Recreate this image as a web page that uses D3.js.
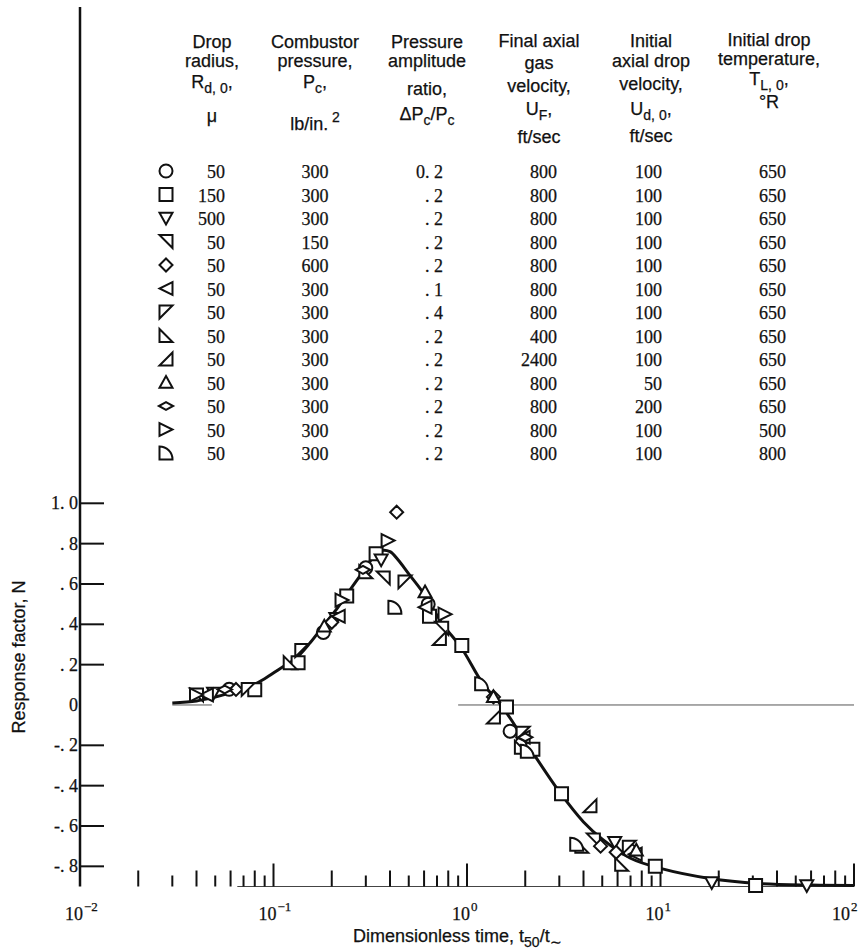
<!DOCTYPE html>
<html>
<head>
<meta charset="utf-8">
<script src="https://cdn.jsdelivr.net/npm/d3@7"></script>
<style>
    body { margin: 0; background: #fff; }
    svg { display: block; }
    text { fill: #111; stroke: #111; stroke-width: 0.25; }
    .sans { font-family: "Liberation Sans", Arial, sans-serif; font-size: 18px; }
    .num { font-family: "Liberation Serif", "Times New Roman", serif; font-size: 18px; }
</style>
</head>
<body>
<svg id="chart" width="861" height="950"></svg>
<script>
"use strict";

// legend table, one entry per symbol
const shapes = ["circle", "square", "triDown", "cornerTR", "diamond", "triLeft",
    "cornerTL", "cornerBL", "cornerBR", "triUp", "wideDiamond", "triRight", "quarter"];
const radius = [50, 150, 500, 50, 50, 50, 50, 50, 50, 50, 50, 50, 50];
const pressure = [300, 300, 300, 150, 600, 300, 300, 300, 300, 300, 300, 300, 300];
const ampRatio = ["0. 2", ". 2", ". 2", ". 2", ". 2", ". 1", ". 4", ". 2", ". 2", ". 2", ". 2", ". 2", ". 2"];
const gasVel = [800, 800, 800, 800, 800, 800, 800, 400, 2400, 800, 800, 800, 800];
const dropVel = [100, 100, 100, 100, 100, 100, 100, 100, 100, 50, 200, 100, 100];
const dropTemp = [650, 650, 650, 650, 650, 650, 650, 650, 650, 650, 650, 500, 800];

// column headers, _{..} subscript, ^{..} superscript
const headers = [
    ["Drop", "radius,", "R_{d, 0},", "\u03bc"],
    ["Combustor", "pressure,", "P_{c},", "lb/in.^{ 2}"],
    ["Pressure", "amplitude", "ratio,", "\u0394P_{c}/P_{c}"],
    ["Final axial", "gas", "velocity,", "U_{F},", "ft/sec"],
    ["Initial", "axial drop", "velocity,", "U_{d, 0},", "ft/sec"],
    ["Initial drop", "temperature,", "T_{L, 0},", "\u00b0R"]
];

// measured points [t50/t~, N] for each symbol
const pCircle = [[0.059, 0.078], [0.181, 0.36], [0.30, 0.68], [0.63, 0.50], [1.67, -0.13], [6.9, -0.72]];
const pSquare = [[0.080, 0.075], [0.134, 0.21], [0.239, 0.54], [0.339, 0.75], [0.64, 0.44], [0.94, 0.295],
    [1.60, -0.01], [2.19, -0.22], [3.08, -0.44], [9.4, -0.80], [31, -0.895]];
const pTriDown = [[0.049, 0.06], [0.21, 0.43], [0.36, 0.72], [5.8, -0.68], [18.4, -0.88], [57, -0.895]];
const pCornerTR = [[0.040, 0.05], [0.369, 0.63], [0.74, 0.38], [4.5, -0.67]];
const pDiamond = [[0.064, 0.077], [0.20, 0.41], [0.433, 0.956], [1.37, 0.04], [4.9, -0.70], [5.9, -0.73]];
const pTriLeft = [[0.045, 0.05], [0.216, 0.44], [0.607, 0.485], [1.95, -0.16], [7.4, -0.74]];
const pCornerTL = [[0.074, 0.077], [0.14, 0.27], [0.478, 0.61], [1.95, -0.14], [6.9, -0.705]];
const pCornerBL = [[0.122, 0.21], [0.30, 0.66], [1.91, -0.21], [3.92, -0.70], [6.3, -0.79]];
const pCornerBR = [[0.72, 0.33], [1.37, -0.06], [4.32, -0.50]];
const pTriUp = [[0.183, 0.39], [0.607, 0.56], [1.37, 0.04], [7.5, -0.72]];
const pWideDiamond = [[0.056, 0.077], [0.29, 0.67], [2.0, -0.16]];
const pTriRight = [[0.040, 0.05], [0.226, 0.52], [0.391, 0.815], [0.77, 0.45]];
const pQuarter = [[0.424, 0.485], [1.19, 0.105], [3.69, -0.69], [2.05, -0.23]];
const points = [pCircle, pSquare, pTriDown, pCornerTR, pDiamond, pTriLeft, pCornerTL,
    pCornerBL, pCornerBR, pTriUp, pWideDiamond, pTriRight, pQuarter];

// faired curve
const curveT = [0.03, 0.04, 0.05, 0.06, 0.075, 0.09, 0.108, 0.13, 0.155, 0.18, 0.21, 0.24, 0.28, 0.32,
    0.36, 0.40, 0.44, 0.50, 0.59, 0.75, 0.94, 1.2, 1.5, 2.0, 3.0, 4.0, 5.0, 7.0, 10, 18, 32, 60, 100];
const curveN = [0.01, 0.02, 0.04, 0.06, 0.09, 0.13, 0.18, 0.23, 0.31, 0.39, 0.47, 0.55, 0.64, 0.72,
    0.765, 0.76, 0.72, 0.65, 0.56, 0.40, 0.28, 0.11, 0.0, -0.18, -0.43, -0.58, -0.665, -0.76, -0.81,
    -0.86, -0.885, -0.893, -0.895];

const xTickExp = ["-2", "-1", "0", "1", "2"];
const yTicks = [1.0, 0.8, 0.6, 0.4, 0.2, 0, -0.2, -0.4, -0.6, -0.8];
const yTickLabels = ["1. 0", ". 8", ". 6", ". 4", ". 2", "0", "-. 2", "-. 4", "-. 6", "-. 8"];

const svg = d3.select("#chart");
svg.append("rect").attr("width", 861).attr("height", 950).attr("fill", "#fff");

const x = d3.scaleLog().domain([0.01, 100]).range([80, 854]);
const y = d3.scaleLinear().domain([-0.9, 1.0]).range([886.5, 503.3]);

// symbol outlines, r = half size
function shapePath(kind, r) {
    const p = d3.path();
    const poly = pts => {
        p.moveTo(pts[0][0], pts[0][1]);
        pts.slice(1).forEach(q => p.lineTo(q[0], q[1]));
        p.closePath();
    };
    switch (kind) {
        case "circle": p.arc(0, 0, r, 0, 2 * Math.PI); break;
        case "square": poly([[-r, -r], [r, -r], [r, r], [-r, r]]); break;
        case "triDown": poly([[-r, -r * 0.8], [r, -r * 0.8], [0, r]]); break;
        case "cornerTR": poly([[-r, -r], [r, -r], [r, r]]); break;
        case "diamond": poly([[0, -r], [r, 0], [0, r], [-r, 0]]); break;
        case "triLeft": poly([[r, -r], [r, r], [-r, 0]]); break;
        case "cornerTL": poly([[-r, -r], [r, -r], [-r, r]]); break;
        case "cornerBL": poly([[-r, -r], [-r, r], [r, r]]); break;
        case "cornerBR": poly([[r, -r], [r, r], [-r, r]]); break;
        case "triUp": poly([[0, -r], [r, r * 0.8], [-r, r * 0.8]]); break;
        case "wideDiamond": poly([[0, -r * 0.6], [r * 1.1, 0], [0, r * 0.6], [-r * 1.1, 0]]); break;
        case "triRight": poly([[-r, -r], [-r, r], [r, 0]]); break;
        case "quarter":
            p.moveTo(-r, r);
            p.lineTo(-r, -r);
            p.arcTo(r, -r, r, r, 2 * r);
            p.lineTo(r, r);
            p.closePath();
            break;
    }
    return p.toString();
}

// text with _{} and ^{} runs
function richText(sel, str, small) {
    const parts = str.split(/([_^]\{[^}]*\})/).filter(s => s.length);
    let shift = 0;
    parts.forEach(s => {
        let target = 0, txt = s, size = null;
        if (s.startsWith("_{")) { target = 5; txt = s.slice(2, -1); size = small; }
        else if (s.startsWith("^{")) { target = -8; txt = s.slice(2, -1); size = small; }
        const t = sel.append("tspan").attr("dy", target - shift).text(txt);
        if (size) t.style("font-size", size + "px");
        shift = target;
    });
}

// ---- legend table ----
const headerX = [212, 315, 427, 539, 651, 769];
const headerY = [
    [48, 67, 88, 122],
    [48, 67, 88, 130],
    [48, 67, 95, 120],
    [47, 69, 92, 115, 143],
    [47, 67, 90, 115, 142],
    [46, 65, 85, 108]
];
headers.forEach((lines, c) => {
    lines.forEach((line, i) => {
        const t = svg.append("text").attr("class", "sans")
            .attr("x", headerX[c]).attr("y", headerY[c][i])
            .attr("text-anchor", "middle");
        richText(t, line, 14);
    });
});

const rowY = d3.scaleLinear().domain([0, 12]).range([171, 453]);
const columns = [
    { values: radius, x: 225, anchor: "end" },
    { values: pressure, x: 315, anchor: "middle" },
    { values: ampRatio, x: 443, anchor: "end" },
    { values: gasVel, x: 557, anchor: "end" },
    { values: dropVel, x: 662, anchor: "end" },
    { values: dropTemp, x: 786, anchor: "end" }
];
shapes.forEach((s, i) => {
    svg.append("path")
        .attr("d", shapePath(s, 6.5))
        .attr("transform", `translate(166,${rowY(i)})`)
        .attr("fill", "none").attr("stroke", "#111").attr("stroke-width", 2);
});
columns.forEach(col => {
    svg.selectAll(null).data(col.values).join("text")
        .attr("class", "num")
        .attr("x", col.x).attr("y", (d, i) => rowY(i) + 7)
        .attr("text-anchor", col.anchor)
        .text(d => d);
});

// ---- axes ----
svg.append("line")
    .attr("x1", x(0.01)).attr("x2", x(0.01)).attr("y1", 7).attr("y2", y(-0.9))
    .attr("stroke", "#111").attr("stroke-width", 2.5);

svg.selectAll(null).data(yTicks.filter(v => v !== 0)).join("line")
    .attr("x1", x(0.01)).attr("x2", x(0.01) + 24)
    .attr("y1", d => y(d)).attr("y2", d => y(d))
    .attr("stroke", "#111").attr("stroke-width", 2);

svg.selectAll(null).data(yTicks).join("text")
    .attr("class", "num")
    .attr("x", x(0.01) - 2).attr("y", d => y(d) + 6)
    .attr("text-anchor", "end")
    .text((d, i) => yTickLabels[i]);

// bottom base line and zero line
svg.append("line")
    .attr("x1", x(0.065)).attr("x2", x(100)).attr("y1", y(-0.9)).attr("y2", y(-0.9))
    .attr("stroke", "#444").attr("stroke-width", 1.2);
svg.append("line")
    .attr("x1", x(0.9)).attr("x2", x(100)).attr("y1", y(0)).attr("y2", y(0))
    .attr("stroke", "#555").attr("stroke-width", 1);
svg.append("line")
    .attr("x1", x(0.03)).attr("x2", x(0.048)).attr("y1", y(0)).attr("y2", y(0))
    .attr("stroke", "#555").attr("stroke-width", 1);

const xt = x.ticks().filter(v => v > 0.01);
svg.selectAll(null).data(xt).join("line")
    .attr("x1", d => x(d)).attr("x2", d => x(d))
    .attr("y1", y(-0.9))
    .attr("y2", d => {
        const k = Math.round(d / Math.pow(10, Math.floor(Math.log10(d) + 1e-9)));
        return y(-0.9) - (k === 1 ? 23 : (k % 2 === 0 ? 16 : 11));
    })
    .attr("stroke", "#111").attr("stroke-width", 2);

xTickExp.forEach((e, i) => {
    const px = x(Math.pow(10, +e)) + (i === xTickExp.length - 1 ? -4 : 3);
    svg.append("text").attr("class", "num")
        .attr("x", px).attr("y", 920).attr("text-anchor", "end").text("10");
    svg.append("text").attr("class", "num").style("font-size", "13px")
        .attr("x", px + 1).attr("y", 911).text(e.replace("-", "\u2212"));
});

// axis titles
const yl = svg.append("text").attr("class", "sans")
    .attr("transform", "translate(25,657) rotate(-90)")
    .attr("text-anchor", "middle");
yl.text("Response factor, N");

const xl = svg.append("text").attr("class", "sans")
    .attr("x", 353).attr("y", 942);
richText(xl, "Dimensionless time,  t_{50}/t_{\u223c}", 14);

// ---- curve and points ----
const line = d3.line()
    .x(d => x(d[0])).y(d => y(d[1]))
    .curve(d3.curveCatmullRom);
svg.append("path")
    .attr("d", line(curveT.map((t, i) => [t, curveN[i]])))
    .attr("fill", "none").attr("stroke", "#111").attr("stroke-width", 3);

points.forEach((series, i) => {
    svg.selectAll(null).data(series).join("path")
        .attr("d", shapePath(shapes[i], 6.5))
        .attr("transform", d => `translate(${x(d[0])},${y(d[1])})`)
        .attr("fill", "#fff").attr("stroke", "#111").attr("stroke-width", 2);
});
</script>
</body>
</html>
